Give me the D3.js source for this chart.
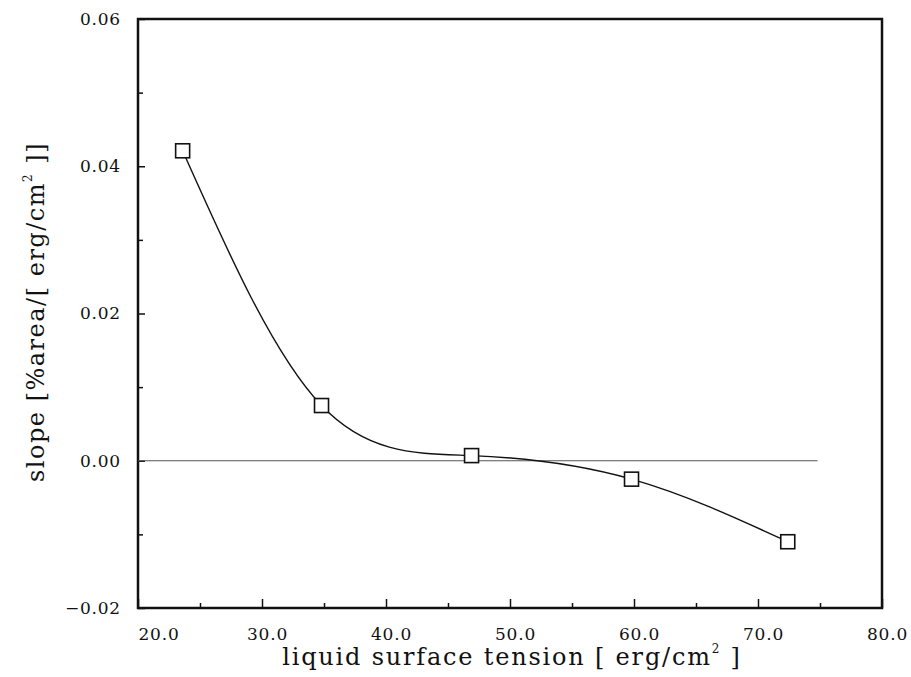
<!DOCTYPE html>
<html>
<head>
<meta charset="utf-8">
<script src="https://cdn.jsdelivr.net/npm/d3@7"></script>
<style>
  body { margin: 0; background: #fff; }
  text { font-family: "DejaVu Serif", "Liberation Serif", serif; fill: #111; }
</style>
</head>
<body>
<svg></svg>
<script>
// measured points
var tension = [23.6, 34.8, 46.9, 59.8, 72.4];
var slope = [0.0421, 0.0075, 0.0007, -0.0025, -0.0110];

var xTicks = [20, 30, 40, 50, 60, 70, 80];
var xMinor = [25, 35, 45, 55, 65, 75];
var yTicks = [-0.02, 0, 0.02, 0.04, 0.06];
var yMinor = [-0.01, 0.01, 0.03, 0.05];
var zeroLine = [20, 74.8];

function main() {
    var width = 911, height = 677;
    var margin = {top: 19, right: 29, bottom: 69, left: 138};
    var w = width - margin.left - margin.right,
        h = height - margin.top - margin.bottom;

    var svg = d3.select('svg').attr('width', width).attr('height', height);
    var g = svg.append('g').attr('transform', `translate(${margin.left},${margin.top})`);

    var x = d3.scaleLinear().domain([20, 80]).range([0, w]);
    var y = d3.scaleLinear().domain([-0.02, 0.06]).range([h, 0]);

    // bottom axis, ticks pointing in
    var xAxis = g.append('g').attr('transform', `translate(0,${h})`)
        .call(d3.axisBottom(x).tickValues(xTicks).tickFormat(d3.format('.1f'))
              .tickSizeInner(-9).tickSizeOuter(0).tickPadding(20));
    xAxis.selectAll('text').attr('font-size', 17).attr('letter-spacing', 0.8).attr('dx', 5);
    xAxis.selectAll('text').filter(function(d) { return d === 20; })
        .attr('text-anchor', 'start').attr('dx', 0);
    g.append('g').attr('transform', `translate(0,${h})`)
        .call(d3.axisBottom(x).tickValues(xMinor).tickFormat('').tickSizeInner(-5).tickSizeOuter(0));

    // left axis
    var yAxis = g.append('g')
        .call(d3.axisLeft(y).tickValues(yTicks).tickFormat(d3.format('.2f'))
              .tickSizeInner(-7).tickSizeOuter(0).tickPadding(17));
    yAxis.selectAll('text').attr('font-size', 17).attr('letter-spacing', 0.8);
    g.append('g')
        .call(d3.axisLeft(y).tickValues(yMinor).tickFormat('').tickSizeInner(-5).tickSizeOuter(0));

    g.selectAll('.domain').remove();
    g.selectAll('.tick line').attr('stroke', '#111').attr('stroke-width', 1.5);

    // frame
    g.append('rect').attr('width', w).attr('height', h)
        .attr('fill', 'none').attr('stroke', '#111').attr('stroke-width', 2.5);

    // zero line
    g.append('line')
        .attr('x1', x(zeroLine[0])).attr('x2', x(zeroLine[1]))
        .attr('y1', y(0)).attr('y2', y(0))
        .attr('stroke', '#555').attr('stroke-width', 1.2);

    var pts = tension.map(function(t, i) { return [t, slope[i]]; });

    var line = d3.line()
        .x(function(d) { return x(d[0]); })
        .y(function(d) { return y(d[1]); })
        .curve(d3.curveNatural);

    g.append('path').datum(pts).attr('d', line)
        .attr('fill', 'none').attr('stroke', '#111').attr('stroke-width', 1.4);

    // square markers
    var s = 14;
    g.selectAll('rect.pt').data(pts).enter().append('rect')
        .attr('class', 'pt')
        .attr('x', function(d) { return x(d[0]) - s / 2; })
        .attr('y', function(d) { return y(d[1]) - s / 2; })
        .attr('width', s).attr('height', s)
        .attr('fill', '#fff').attr('stroke', '#111').attr('stroke-width', 1.6);

    // axis titles
    var xt = svg.append('text')
        .attr('x', 512).attr('y', 665)
        .attr('text-anchor', 'middle').attr('font-size', 24).attr('letter-spacing', 1.8)
        .text('liquid surface tension [ erg/cm');
    xt.append('tspan').attr('font-size', 12).attr('dy', -12).text('2');
    xt.append('tspan').attr('dy', 12).text(' ]');

    var yt = svg.append('text')
        .attr('transform', `translate(44,312) rotate(-90)`)
        .attr('text-anchor', 'middle').attr('font-size', 24).attr('letter-spacing', 1.5)
        .text('slope [%area/[ erg/cm');
    yt.append('tspan').attr('font-size', 12).attr('dy', -12).text('2');
    yt.append('tspan').attr('dy', 12).text(' ]]');
}

main();
</script>
</body>
</html>
